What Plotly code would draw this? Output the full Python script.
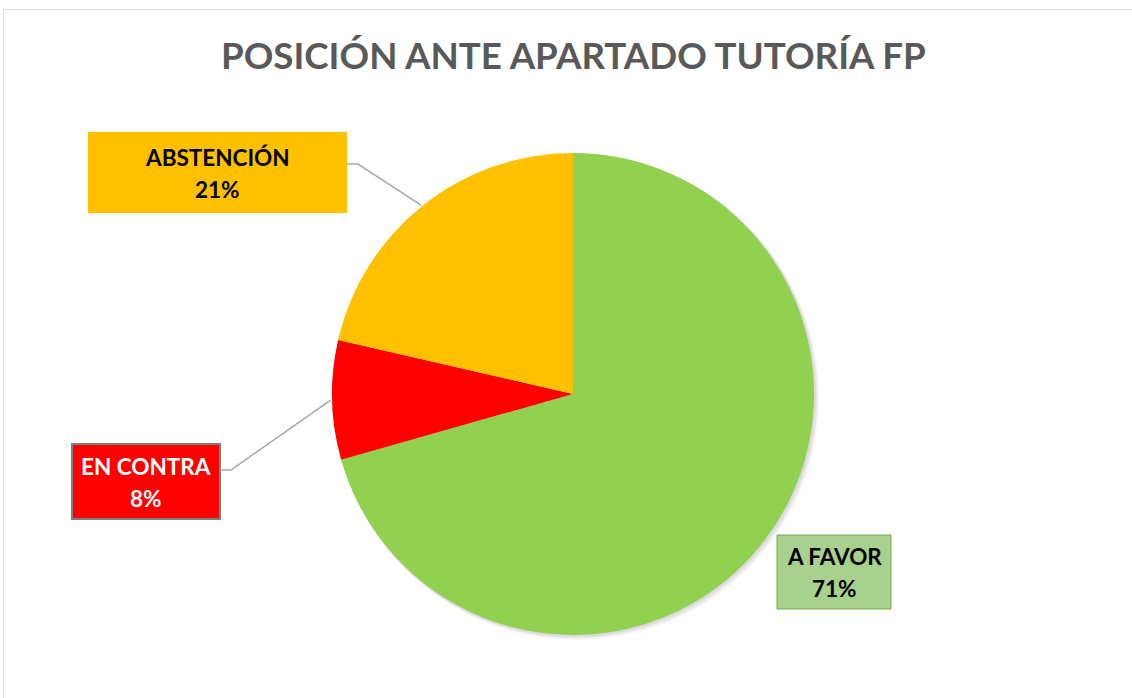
import math
import plotly.graph_objects as go

W, H = 1132, 698

labels = ["A FAVOR", "EN CONTRA", "ABSTENCIÓN"]
values = [70.6, 8.0, 21.4]
colors = ["#92D050", "#FF0000", "#FFC000"]
title = "POSICIÓN ANTE APARTADO TUTORÍA FP"

# pie geometry (pixels)
cx, cy, R = 573, 394, 241

def px(x):
    return x / W

def py(y):
    return 1 - y / H

fig = go.Figure()
fig.add_trace(go.Pie(
    labels=labels, values=values, sort=False, direction="clockwise", rotation=0,
    marker=dict(colors=colors, line=dict(width=0)),
    textinfo="none", hoverinfo="label+percent", showlegend=False,
    domain=dict(x=[px(cx - R), px(cx + R)], y=[py(cy + R), py(cy - R)]),
))

total = sum(values)
pcts = [round(100 * v / total) for v in values]

def edge_point(i):
    start = sum(values[:i]) / total
    mid = (start + values[i] / total / 2) * 2 * math.pi
    return cx + R * math.sin(mid), cy - R * math.cos(mid)

shapes = []
# chart border
shapes.append(dict(type="rect", xref="paper", yref="paper", x0=px(3.5), y0=-0.01, x1=1.01, y1=py(9.5),
                   line=dict(color="#D9D9D9", width=1), fillcolor="rgba(0,0,0,0)", layer="below"))
# soft shadow
for k, a in [(5, 0.04), (3.5, 0.05), (2, 0.06)]:
    shapes.append(dict(type="circle", xref="paper", yref="paper",
                       x0=px(cx - R + k * 0.4), x1=px(cx + R + k), y0=py(cy + R + k), y1=py(cy - R + k * 0.4),
                       line=dict(width=0), fillcolor=f"rgba(0,0,0,{a})", layer="below"))

# label boxes: (center x, center y, width, height) in pixels
boxes = {
    0: dict(x=834, y=572, w=114, h=74, bg="#A9D18E", border="#70AD47", bw=1, fc="#000000"),
    1: dict(x=146, y=481.5, w=148, h=75, bg="#FF0000", border="#7F7F7F", bw=2, fc="#FFFFFF"),
    2: dict(x=217.5, y=172.5, w=259, h=81, bg="#FFC000", border="#FFC000", bw=0, fc="#000000"),
}

annotations = [dict(text=f"<b>{title}</b>", x=px(573), y=py(55), xref="paper", yref="paper",
                    showarrow=False, font=dict(family="Lato", size=36.7, color="#595959"),
                    xanchor="center", yanchor="middle")]

for i, b in boxes.items():
    shapes.append(dict(type="rect", xref="paper", yref="paper",
                       x0=px(b["x"] - b["w"] / 2), x1=px(b["x"] + b["w"] / 2),
                       y0=py(b["y"] + b["h"] / 2), y1=py(b["y"] - b["h"] / 2),
                       fillcolor=b["bg"], line=dict(color=b["border"], width=b["bw"]) if b["bw"] else dict(width=0),
                       layer="above"))
    for txt, dy in [(labels[i], -15.5), (f"{pcts[i]}%", 16.5)]:
        annotations.append(dict(text=f"<b>{txt}</b>", x=px(b["x"]), y=py(b["y"] + dy),
                                xref="paper", yref="paper", showarrow=False, align="center",
                                font=dict(family="Lato", size=22.5, color=b["fc"]),
                                xanchor="center", yanchor="middle"))

# leader lines
for i, (sx, sy) in [(2, (347, 164)), (1, (220, 470))]:
    ex, ey = edge_point(i)
    ex -= 1.5
    mx = sx + 11
    shapes.append(dict(type="path", xref="paper", yref="paper",
                       path=f"M {px(sx)},{py(sy)} L {px(mx)},{py(sy)} L {px(ex)},{py(ey)}",
                       line=dict(color="#A6A6A6", width=1.5)))

fig.update_layout(
    width=W, height=H, margin=dict(l=0, r=0, t=0, b=0),
    paper_bgcolor="#FFFFFF", plot_bgcolor="#FFFFFF",
    shapes=shapes, annotations=annotations,
)

fig.write_html("out.html", config={"displayModeBar": False},
               post_script="document.body.style.margin='0';document.body.style.overflow='hidden';")
